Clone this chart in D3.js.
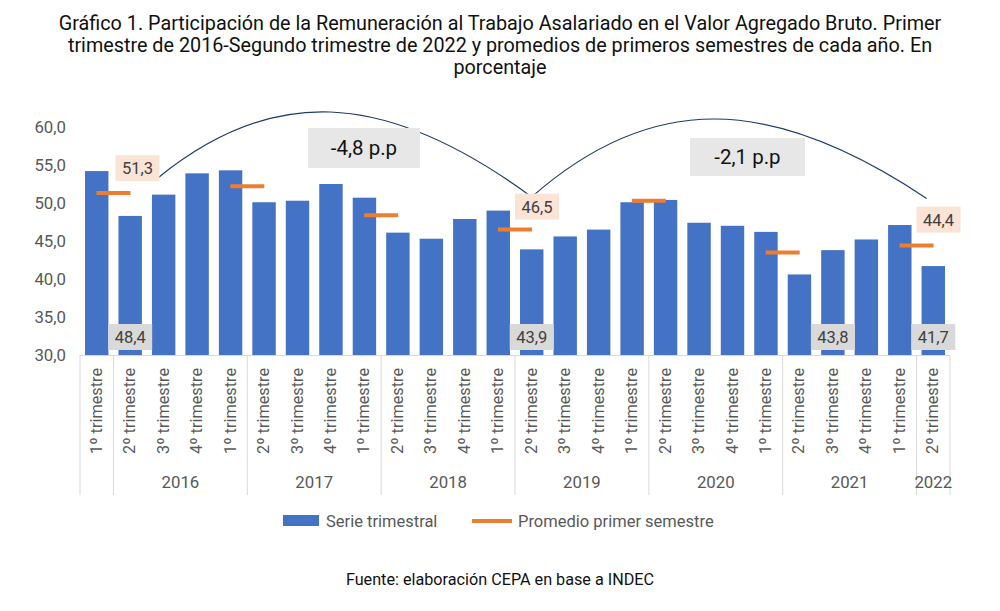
<!DOCTYPE html><html><head><meta charset="utf-8">
<script src="https://cdn.jsdelivr.net/npm/d3@7"></script>
<style>body{margin:0;background:#fff;font-family:Roboto,"Noto Sans",sans-serif}</style></head><body>
<svg id="c" width="1000" height="611"></svg>
<script>
const quarters=["1º trimestre","2º trimestre","3º trimestre","4º trimestre","1º trimestre","2º trimestre","3º trimestre","4º trimestre","1º trimestre","2º trimestre","3º trimestre","4º trimestre","1º trimestre","2º trimestre","3º trimestre","4º trimestre","1º trimestre","2º trimestre","3º trimestre","4º trimestre","1º trimestre","2º trimestre","3º trimestre","4º trimestre","1º trimestre","2º trimestre"];
const values=[54.2,48.3,51.1,53.9,54.3,50.1,50.3,52.5,50.7,46.1,45.3,47.9,49.0,43.9,45.6,46.5,50.1,50.4,47.4,47.0,46.2,40.6,43.8,45.2,47.1,41.7];
const avgPos=[0,4,8,12,16,20,24];
const avgVals=[51.3,52.2,48.4,46.5,50.3,43.5,44.4];
const years=[{label:"",from:0,to:0},{label:"2016",from:1,to:4},{label:"2017",from:5,to:8},{label:"2018",from:9,to:12},{label:"2019",from:13,to:16},{label:"2020",from:17,to:20},{label:"2021",from:21,to:24},{label:"2022",from:25,to:25}];
const yTicks=[30,35,40,45,50,55,60];
const peachLabels=[{i:0.5,v:51.3,dy:-25,dx:24,t:"51,3"},{i:12.5,v:46.5,dx:22,dy:-23,t:"46,5"},{i:24.5,v:44.4,dx:22,dy:-26,t:"44,4"}];
const grayLabels=[{i:1,t:"48,4"},{i:13,t:"43,9"},{i:22,t:"43,8"},{i:25,t:"41,7"}];

const svg=d3.select("#c");
const x=d3.scaleBand().domain(d3.range(values.length)).range([80,950]).paddingInner(0.3).paddingOuter(0.15);
const y=d3.scaleLinear().domain([30,60]).range([355,127]);
const cx=i=>x(Math.floor(i))+x.bandwidth()/2+(i%1)*x.step();

const title=["Gráfico 1. Participación de la Remuneración al Trabajo Asalariado en el Valor Agregado Bruto. Primer","trimestre de 2016-Segundo trimestre de 2022 y promedios de primeros semestres de cada año. En","porcentaje"];
svg.selectAll(".t").data(title).join("text").attr("x",500).attr("y",(d,i)=>30+i*22).attr("text-anchor","middle").attr("font-size",19.8).attr("fill","#111").text(d=>d);

svg.selectAll(".yt").data(yTicks).join("text").attr("x",66).attr("y",d=>y(d)+6).attr("text-anchor","end").attr("font-size",16.8).attr("fill","#595959").text(d=>d.toFixed(1).replace(".",","));

svg.selectAll(".b").data(values).join("rect").attr("x",(d,i)=>x(i)).attr("width",x.bandwidth()).attr("y",d=>y(d)).attr("height",d=>y(30)-y(d)).attr("fill","#4472C4");

svg.append("line").attr("x1",80).attr("x2",950).attr("y1",355.5).attr("y2",355.5).attr("stroke","#d9d9d9");
const seps=[80].concat(years.map(g=>x(g.to)+x.bandwidth()+(x.step()-x.bandwidth())/2));
seps[seps.length-1]=950;
svg.selectAll(".s").data(seps).join("line").attr("x1",d=>d).attr("x2",d=>d).attr("y1",355).attr("y2",495).attr("stroke","#d9d9d9");
svg.selectAll(".q").data(quarters).join("text").attr("transform",(d,i)=>`translate(${x(i)+x.bandwidth()/2+5},454) rotate(-90)`).attr("font-size",16.3).attr("fill","#595959").text(d=>d);
svg.selectAll(".yr").data(years).join("text").attr("x",d=>(cx(d.from)+cx(d.to))/2).attr("y",488).attr("text-anchor","middle").attr("font-size",16.8).attr("fill","#595959").text(d=>d.label);

const arcs=[{a:1.8,y0:53.2,b:13,y1:50.8,top:65.3},{a:13,y0:50.8,b:24.8,y1:50.6,top:64.5}];
svg.selectAll(".arc").data(arcs).join("path").attr("fill","none").attr("stroke","#1F3A6E").attr("stroke-width",1.2)
 .attr("d",d=>{const x0=cx(d.a),x1=cx(d.b);return `M${x0},${y(d.y0)} C${x0+(x1-x0)*0.3},${y(d.top)} ${x0+(x1-x0)*0.6},${y(d.top)} ${x1},${y(d.y1)}`;});

svg.selectAll(".a").data(avgVals).join("line").attr("x1",(d,i)=>cx(avgPos[i]+0.5)-17).attr("x2",(d,i)=>cx(avgPos[i]+0.5)+17).attr("y1",d=>y(d)).attr("y2",d=>y(d)).attr("stroke","#ED7D31").attr("stroke-width",4);

peachLabels.forEach(p=>{const px=cx(p.i)+p.dx,py=y(p.v)+p.dy;
 svg.append("rect").attr("x",px-22).attr("y",py-13).attr("width",44).attr("height",26).attr("fill","#FBE3D6");
 svg.append("text").attr("x",px).attr("y",py+6).attr("text-anchor","middle").attr("font-size",16.5).attr("fill","#404040").text(p.t);});
grayLabels.forEach(p=>{const px=cx(p.i),py=337;
 svg.append("rect").attr("x",px-22).attr("y",py-13).attr("width",44).attr("height",26).attr("fill","#D9D9D9");
 svg.append("text").attr("x",px).attr("y",py+6).attr("text-anchor","middle").attr("font-size",16.5).attr("fill","#404040").text(p.t);});

[{x:308,y:128,w:112,h:40,t:"-4,8 p.p"},{x:690,y:138,w:115,h:38,t:"-2,1 p.p"}].forEach(b=>{
 svg.append("rect").attr("x",b.x).attr("y",b.y).attr("width",b.w).attr("height",b.h).attr("fill","#E7E7E7");
 svg.append("text").attr("x",b.x+b.w/2).attr("y",b.y+b.h/2+7).attr("text-anchor","middle").attr("font-size",20.5).attr("fill","#111").text(b.t);});

svg.append("rect").attr("x",283).attr("y",515).attr("width",36).attr("height",11).attr("fill","#4472C4");
svg.append("text").attr("x",326).attr("y",527).attr("font-size",16.5).attr("fill","#595959").text("Serie trimestral");
svg.append("line").attr("x1",472).attr("x2",512).attr("y1",521).attr("y2",521).attr("stroke","#ED7D31").attr("stroke-width",4);
svg.append("text").attr("x",518).attr("y",527).attr("font-size",16.5).attr("fill","#595959").text("Promedio primer semestre");

svg.append("text").attr("x",500).attr("y",585).attr("text-anchor","middle").attr("font-size",16.2).attr("fill","#111").text("Fuente: elaboración CEPA en base a INDEC");
</script></body></html>
